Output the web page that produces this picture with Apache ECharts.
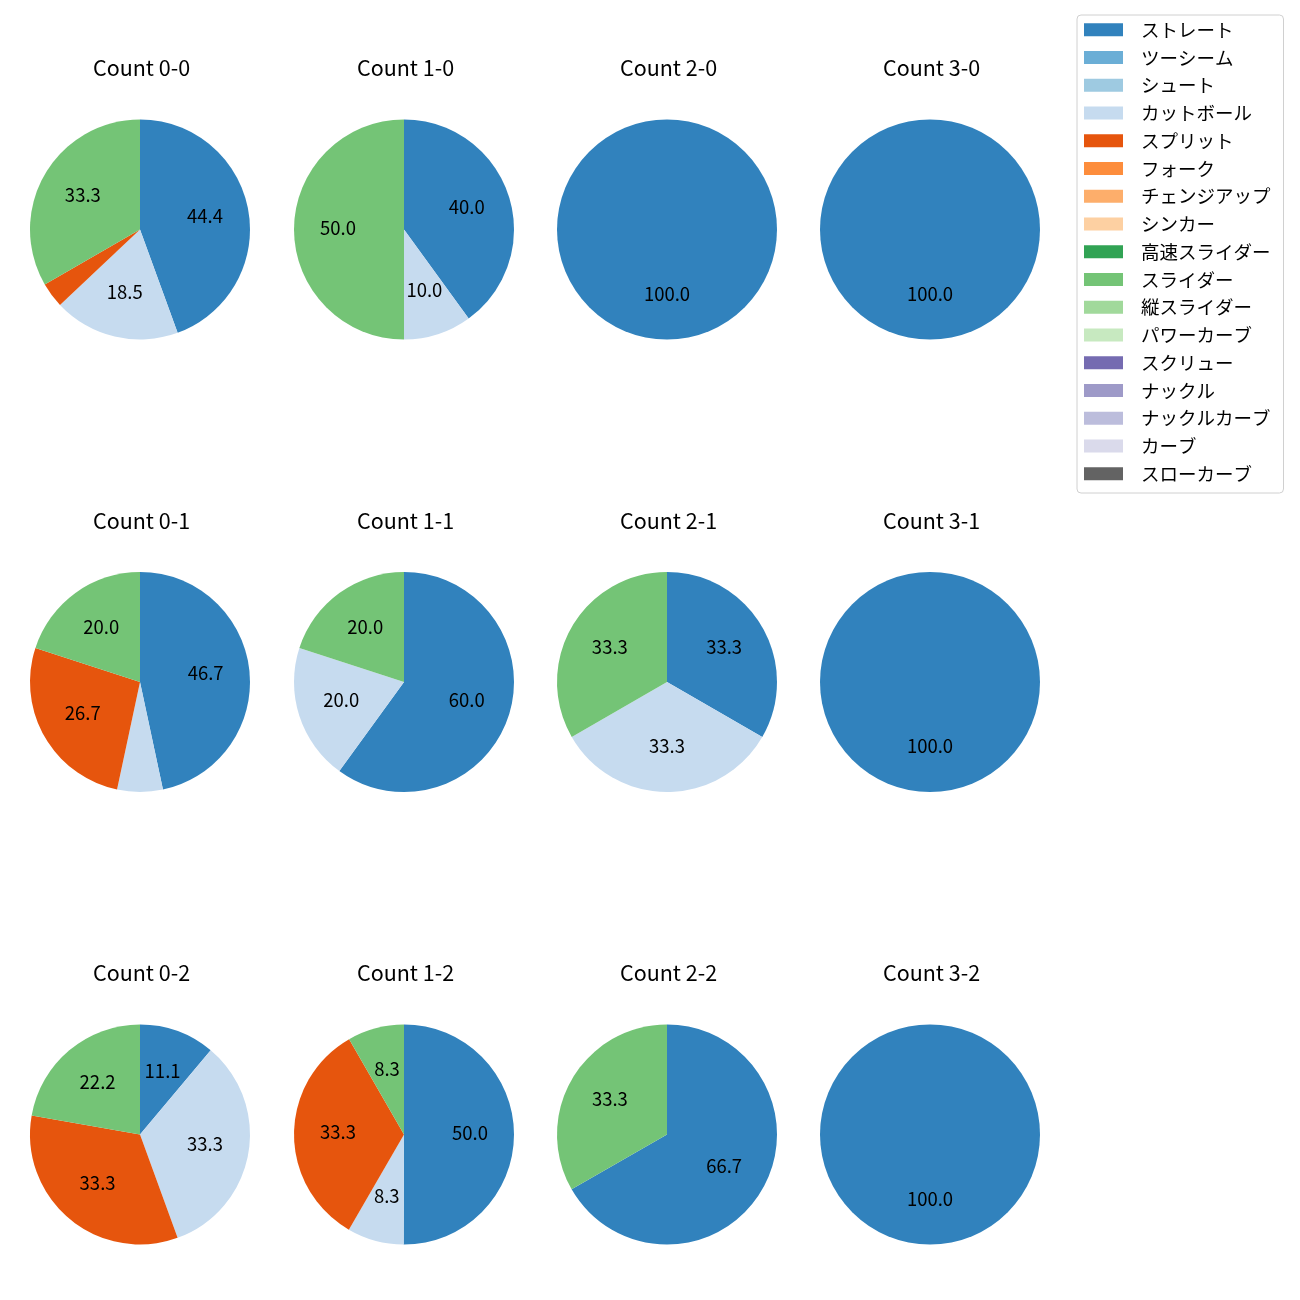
<!DOCTYPE html>
<html><head><meta charset="utf-8">
<script src="https://cdn.jsdelivr.net/npm/echarts@6/dist/echarts.min.js"></script>
<style>html,body{margin:0;padding:0;background:#fff}#c{width:1300px;height:1300px}</style>
</head><body><div id="c"></div>
<script>
const pitchTypes = ['ストレート','ツーシーム','シュート','カットボール','スプリット','フォーク','チェンジアップ','シンカー','高速スライダー','スライダー','縦スライダー','パワーカーブ','スクリュー','ナックル','ナックルカーブ','カーブ','スローカーブ'];
const pitchColors = ['#3182bd','#6baed6','#9ecae1','#c6dbef','#e6550d','#fd8d3c','#fdae6b','#fdd0a2','#31a354','#74c476','#a1d99b','#c7e9c0','#756bb1','#9e9ac8','#bcbddc','#dadaeb','#636363'];
const countNames = ['Count 0-0','Count 1-0','Count 2-0','Count 3-0','Count 0-1','Count 1-1','Count 2-1','Count 3-1','Count 0-2','Count 1-2','Count 2-2','Count 3-2'];
// percentages per count (same order as countNames)
const straight = [44.4, 40.0, 100.0, 100.0, 46.7, 60.0, 33.3, 100.0, 11.1, 50.0, 66.7, 100.0];
const cutter   = [18.5, 10.0, 0, 0, 6.7, 20.0, 33.3, 0, 33.3, 8.3, 0, 0];
const splitter = [3.7, 0, 0, 0, 26.7, 0, 0, 0, 33.3, 33.3, 0, 0];
const slider   = [33.3, 50.0, 0, 0, 20.0, 20.0, 33.3, 0, 22.2, 8.3, 33.3, 0];
const seriesByType = {'ストレート': straight, 'カットボール': cutter, 'スプリット': splitter, 'スライダー': slider};
const labelMin = 7;

const FONT = '"Noto Sans CJK JP", "Noto Sans", sans-serif';
const colX = [140, 404, 667, 930];
const rowY = [229.5, 682, 1134.5];
const titleY = [57, 510, 962];
const R = 110;
const colorOf = n => pitchColors[pitchTypes.indexOf(n)];

const titles = [], pies = [], labelPies = [];
countNames.forEach((name, i) => {
  const c = i % 4, r = Math.floor(i / 4);
  titles.push({text: name, left: colX[c] + 1.5, top: titleY[r], textAlign: 'center', padding: 0,
    textStyle: {fontFamily: FONT, fontSize: 21.5, fontWeight: 'normal', color: '#000'}});
  const data = [];
  pitchTypes.forEach(t => {
    const arr = seriesByType[t];
    if (arr && arr[i] > 0) data.push({name: t, value: arr[i], itemStyle: {color: colorOf(t)}});
  });
  pies.push({type: 'pie', center: [colX[c], rowY[r]], radius: [0, R], startAngle: 90, clockwise: true,
    animation: false, silent: true, label: {show: false}, labelLine: {show: false},
    itemStyle: {borderWidth: 0}, data: data});
  labelPies.push({type: 'pie', center: [colX[c], rowY[r]], radius: [0, 126], startAngle: 90, clockwise: true,
    animation: false, silent: true, labelLine: {show: false},
    itemStyle: {color: 'rgba(0,0,0,0)', borderWidth: 0},
    label: {show: true, position: 'inside', color: '#000', fontFamily: FONT, fontSize: 18.5, offset: [0, -2],
      formatter: p => p.value >= labelMin ? p.value.toFixed(1) : ''},
    data: data.map(d => ({name: d.name, value: d.value, itemStyle: {color: 'rgba(0,0,0,0)'}}))});
});
const dummy = {type: 'pie', center: [-500, -500], radius: [0, 0], silent: true, animation: false,
  label: {show: false}, labelLine: {show: false},
  data: pitchTypes.map(t => ({name: t, value: 1, itemStyle: {color: colorOf(t)}}))};

const chart = echarts.init(document.getElementById('c'), null, {renderer: 'canvas'});
chart.setOption({
  animation: false,
  title: titles,
  legend: {orient: 'vertical', left: 1077, top: 15, padding: [5.5, 13, 10, 7],
    borderColor: '#d0d0d0', borderWidth: 1, borderRadius: 4, backgroundColor: '#fff',
    itemWidth: 39, itemHeight: 13, itemGap: 9.25, icon: 'rect', selectedMode: false,
    textStyle: {fontFamily: FONT, fontSize: 18.5, color: '#000', padding: [0, 0, 0, 13]},
    data: pitchTypes},
  series: [dummy].concat(pies, labelPies)
});
</script></body></html>
